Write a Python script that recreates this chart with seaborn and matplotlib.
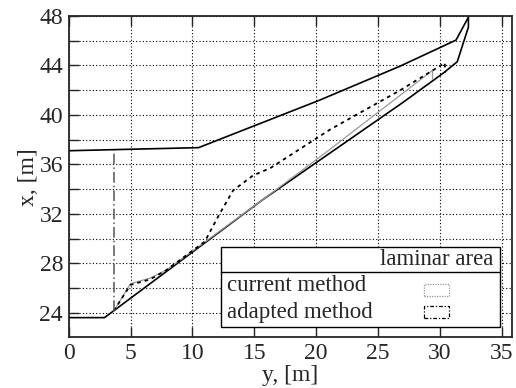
import matplotlib
matplotlib.use("Agg")
import matplotlib.pyplot as plt
from matplotlib.patches import Rectangle
from matplotlib.lines import Line2D
import seaborn as sns
import pandas as pd

# ---- data (horizontal axis = y [m], vertical axis = x [m]) ----
outline_y = [0.0, 10.5, 20.3, 26.8, 31.3, 32.3, 32.3, 31.4, 30.3, 27.0, 15.7, 2.9, 0.0]
outline_x = [37.1, 37.35, 41.2, 43.95, 46.05, 47.9, 47.1, 44.3, 43.4, 41.0, 33.15, 23.6, 23.6]

current_y = [3.65, 5.0, 6.6, 7.9, 15.7, 21.1, 29.4, 29.4]
current_x = [24.15, 26.35, 26.8, 27.45, 33.15, 37.2, 43.6, 42.9]

adapted_y = [3.65, 5.0, 6.6, 7.9, 11.0, 12.2, 13.3, 14.9, 16.3, 21.1, 26.8, 30.4, 30.4]
adapted_x = [24.15, 26.25, 26.7, 27.45, 29.75, 32.0, 33.9, 35.1, 35.7, 38.8, 42.0, 44.2, 43.4]

adapted_edge_y = [3.65, 3.65]
adapted_edge_x = [24.15, 37.15]

legend_title = "laminar area"
legend_labels = ["current method", "adapted method"]

x_ticks = [0, 5, 10, 15, 20, 25, 30, 35]
y_ticks = [24, 26, 28, 30, 32, 34, 36, 38, 40, 42, 44, 46, 48]

# ---- style ----
sns.set_style("ticks")
plt.rcParams["font.family"] = ["Liberation Serif", "DejaVu Serif"]

fig = plt.figure(figsize=(5.16, 3.88), dpi=100)
ax = fig.add_axes([0.133, 0.1304, 0.8587, 0.8284])

def draw(xs, ys, **kw):
    df = pd.DataFrame({"h": xs, "v": ys})
    sns.lineplot(data=df, x="h", y="v", sort=False, estimator=None, ax=ax, **kw)

draw(outline_y, outline_x, color="black", lw=1.2, zorder=4)
draw(current_y, current_x, color="#9a9a9a", lw=0.9, zorder=5)
draw(adapted_y, adapted_x, color="black", lw=1.3, linestyle=(0, (2, 2.2)), zorder=6)
draw(adapted_edge_y, adapted_edge_x, color="#555555", lw=1.1, linestyle=(0, (7, 2, 1, 2)), zorder=6)

ax.set_xlim(0, 35.8)
ax.set_ylim(22, 48)
ax.set_xticks(x_ticks)
ax.set_xticklabels([str(t) for t in x_ticks])
ax.set_yticks(y_ticks)
ax.set_yticklabels([str(t) if t % 4 == 0 else "" for t in y_ticks])
ax.tick_params(direction="in", length=7, width=1.0, labelsize=17, top=True, right=False, pad=4)
ax.grid(True, color="black", linestyle=(0, (1, 2)), lw=0.8)
for s in ax.spines.values():
    s.set_linewidth(1.3)
    s.set_visible(True)

ax.set_xlabel("y, [m]", fontsize=17, labelpad=1)
ax.set_ylabel("x, [m]", fontsize=17, labelpad=0)

# ---- legend drawn in axes coordinates ----
T = ax.transAxes
ax.add_patch(Rectangle((0.344, 0.0314), 0.6285, 0.2506, transform=T, facecolor="white",
                       edgecolor="black", lw=1.0, zorder=10))
ax.add_line(Line2D([0.344, 0.9725], [0.2044, 0.2044], transform=T, color="black", lw=1.0, zorder=11))
ax.text(0.9585, 0.243, legend_title, transform=T, ha="right", va="center", fontsize=16.5, zorder=12)
ax.text(0.357, 0.160, legend_labels[0], transform=T, ha="left", va="center", fontsize=16.5, zorder=12)
ax.text(0.357, 0.078, legend_labels[1], transform=T, ha="left", va="center", fontsize=16.5, zorder=12)
ax.add_patch(Rectangle((0.802, 0.129), 0.056, 0.037, transform=T, facecolor="none",
                       edgecolor="#9a9a9a", lw=0.9, linestyle=(0, (1, 1)), zorder=12))
ax.add_patch(Rectangle((0.802, 0.061), 0.056, 0.037, transform=T, facecolor="none",
                       edgecolor="black", lw=0.9, linestyle=(0, (3, 1.5, 1, 1.5)), zorder=12))

fig.savefig("out.png", dpi=100)
